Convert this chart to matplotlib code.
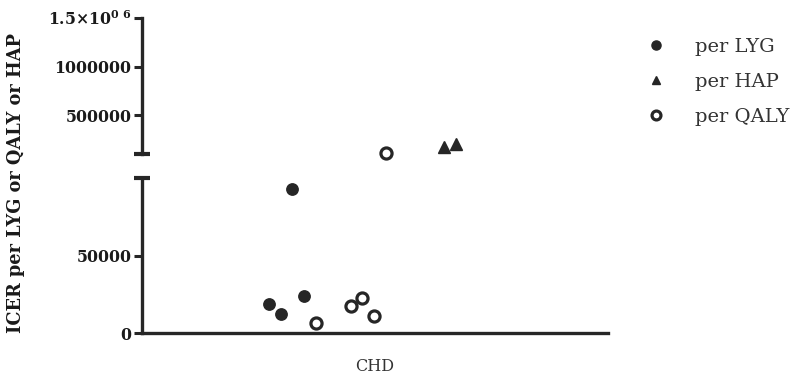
"""
ICER per LYG / QALY / HAP for CHD, broken y-axis scatter
"""
import matplotlib
matplotlib.use('Agg')
import matplotlib.pyplot as plt

# data (x is horizontal jitter around the CHD column)
category = 'CHD'
lyg_x = [-0.356, -0.455, -0.403, -0.305]
lyg_y = [93000, 19000, 12000, 24000]
hap_x = [0.296, 0.348]
hap_y = [170000, 201000]
qaly_x = [0.047, -0.253, -0.103, -0.056, -0.004]
qaly_y = [110000, 6500, 17500, 22700, 11000]

low_ticks = [0, 50000]
low_labels = ['0', '50000']
high_ticks = [500000, 1000000, 1500000]
high_labels = ['500000', '1000000', '1.5×10$^{0\\ 6}$']
low_range = (0, 100000)
high_range = (100000, 1500000)

INK = '#262626'
TXT = '#1a1a1a'
SERIF = 'DejaVu Serif'
plt.rcParams['font.family'] = SERIF
plt.rcParams['mathtext.fontset'] = 'custom'
plt.rcParams['mathtext.rm'] = SERIF + ':bold'
plt.rcParams['mathtext.it'] = SERIF + ':bold'

W, H = 802, 375
fig = plt.figure(figsize=(W / 100, H / 100), dpi=100)

left, right = 142, 608
ax_lo = fig.add_axes([left / W, (H - 333) / H, (right - left) / W, (333 - 178) / H])
ax_hi = fig.add_axes([left / W, (H - 154) / H, (right - left) / W, (154 - 18) / H])


def in_range(xs, ys, rng):
    pts = [(x, y) for x, y in zip(xs, ys) if rng[0] <= y <= rng[1]]
    return [p[0] for p in pts], [p[1] for p in pts]


def series(ax, rng):
    x, y = in_range(lyg_x, lyg_y, rng)
    ax.plot(x, y, 'o', color=INK, ms=8.2, ls='none', clip_on=False, label='per LYG')
    x, y = in_range(hap_x, hap_y, rng)
    ax.plot(x, y, '^', color=INK, ms=8, ls='none', clip_on=False, label='per HAP')
    x, y = in_range(qaly_x, qaly_y, rng)
    ax.plot(x, y, 'o', mfc='white', mec=INK, mew=2.3, ms=8, ls='none',
            clip_on=False, label='per QALY')


for ax, rng in ((ax_lo, low_range), (ax_hi, high_range)):
    series(ax, rng)
    ax.set_xlim(-1, 1)
    ax.set_ylim(*rng)
    for s in ('top', 'right'):
        ax.spines[s].set_visible(False)
    ax.spines['left'].set_linewidth(2.4)
    ax.spines['left'].set_color(INK)
    ax.tick_params(axis='y', length=6, width=2.2, color=INK, direction='out', pad=1.5)

ax_lo.spines['bottom'].set_linewidth(2.4)
ax_lo.spines['bottom'].set_color(INK)
ax_lo.set_xticks([0])
ax_lo.set_xticklabels([category], fontsize=11.5, color='#333333')
ax_lo.tick_params(axis='x', length=0, pad=18)
ax_lo.set_yticks(low_ticks)
ax_lo.set_yticklabels(low_labels, fontweight='bold', fontsize=11.3, color=TXT)

ax_hi.spines['bottom'].set_visible(False)
ax_hi.set_xticks([])
ax_hi.set_yticks(high_ticks)
ax_hi.set_yticklabels(high_labels, fontweight='bold', fontsize=11.3, color=TXT)

# caps at the break of the y axis
ax_hi.plot([0], [0], marker='_', ms=11, mew=3, color=INK, transform=ax_hi.transAxes, clip_on=False)
ax_lo.plot([0], [1], marker='_', ms=11, mew=3, color=INK, transform=ax_lo.transAxes, clip_on=False)

fig.text(16 / W, 1 - 183 / H, 'ICER per LYG or QALY or HAP', rotation=90,
         ha='center', va='center', fontsize=12.8, fontweight='bold', color=TXT)

handles, labels = ax_lo.get_legend_handles_labels()
leg = fig.legend(handles, labels, loc='upper left', bbox_to_anchor=(627 / W, 1 - 20 / H),
                 frameon=False, fontsize=14, handletextpad=1.4, labelspacing=0.88,
                 handlelength=1.2, markerscale=0.8)
for t in leg.get_texts():
    t.set_color('#333333')

fig.savefig('out.png', dpi=100)
